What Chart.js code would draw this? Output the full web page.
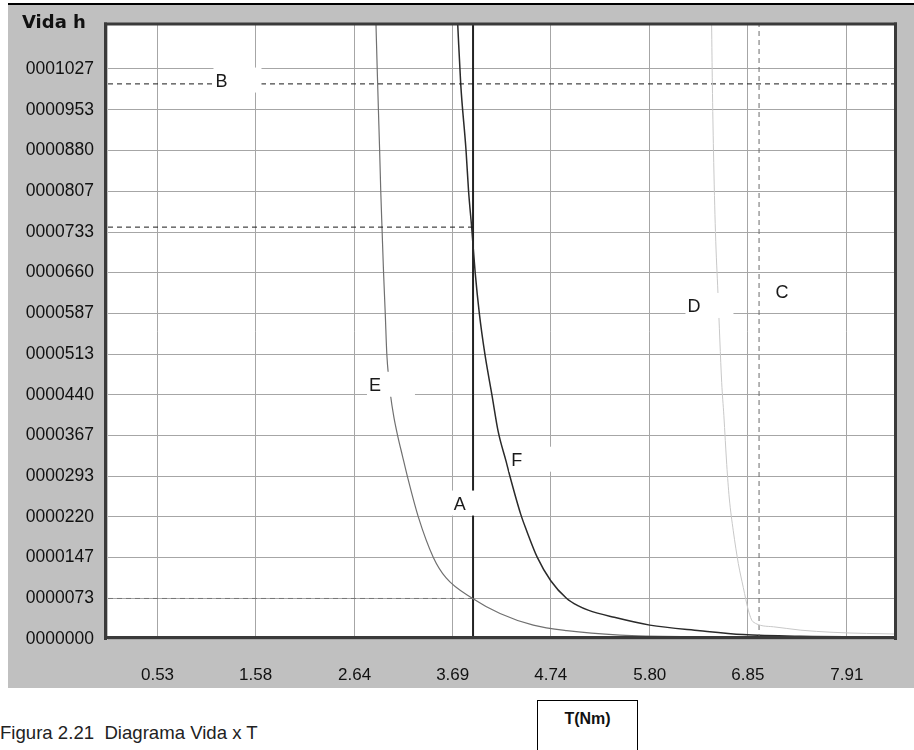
<!DOCTYPE html>
<html>
<head>
<meta charset="utf-8">
<script src="https://cdn.jsdelivr.net/npm/chart.js@4.4.1/dist/chart.umd.min.js"></script>
<style>
html,body{margin:0;padding:0;background:#fff;width:914px;height:750px;overflow:hidden;position:relative;font-family:"Liberation Sans",Arial,sans-serif}
#wrap{position:absolute;left:0;top:0;width:914px;height:692px}
#caption{position:absolute;left:0;top:723px;font-size:18.6px;line-height:20px;color:#222;white-space:pre}
#unit{position:absolute;left:537px;top:700px;width:101px;height:70px;border:1px solid #000;box-sizing:border-box;font-weight:bold;font-size:16px;line-height:18px;padding-top:9px;text-align:center;color:#111}
</style>
</head>
<body>
<div id="wrap"><canvas id="c" width="914" height="692" style="width:914px;height:692px"></canvas></div>
<div id="caption">Figura 2.21  Diagrama Vida x T</div>
<div id="unit">T(Nm)</div>
<script>
// ---- tick labels ----
const xTickLabels = ['0.53','1.58','2.64','3.69','4.74','5.80','6.85','7.91'];
const yTickLabels = ['0000000','0000073','0000147','0000220','0000293','0000367','0000440','0000513','0000587','0000660','0000733','0000807','0000880','0000953','0001027'];
const yAxisTitle = 'Vida h';
const xMax = 8.436;
const yMax = 1107;

// ---- curves (torque T in Nm, life in h) ----
const curveE_T    = [2.869, 2.882, 2.895, 2.908, 2.920, 2.935, 2.950, 2.968, 2.985, 3.005, 3.024, 3.060, 3.100, 3.152, 3.205, 3.322, 3.483, 3.620, 3.904, 4.197, 4.553, 4.911, 5.481, 6.340, 7.410, 8.436];
const curveE_life = [1107, 1027, 953, 880, 807, 733, 660, 587, 513, 470, 440, 400, 367, 330, 293, 220, 147, 110, 73, 46, 25, 15, 7, 4, 3, 2];

const curveF_T    = [3.744, 3.776, 3.833, 3.860, 3.893, 3.931, 3.975, 4.035, 4.110, 4.178, 4.262, 4.300, 4.418, 4.482, 4.596, 4.740, 4.911, 5.030, 5.140, 5.420, 5.800, 6.337, 6.798, 7.410, 8.436];
const curveF_life = [1107, 1000, 880, 807, 742, 660, 587, 513, 440, 373, 320, 295, 225, 195, 147, 105, 73, 60, 52, 39, 25, 15, 8, 5, 4];

const curveD_T    = [6.462, 6.470, 6.482, 6.503, 6.530, 6.570, 6.593, 6.624, 6.651, 6.694, 6.748, 6.801, 6.855, 6.905, 7.123, 7.410, 7.762, 8.122, 8.436];
const curveD_life = [1107, 1000, 880, 734, 623, 462, 403, 314, 254, 195, 136, 93, 52, 31, 22, 16, 12, 10, 9];

// ---- reference lines ----
const torqueA = 3.908;     // vertical line A
const torqueC = 6.97;      // vertical dashed line C
const lifeB = 1000;        // horizontal dashed line B
const lifeF_atA = 742;     // life of curve F at torque A
const lifeE_atA = 73;      // life of curve E at torque A

// ---- letter labels (data units) ----
const labelText  = ['B', 'E', 'A', 'F', 'D', 'C'];
const labelT     = [1.215, 2.858, 3.765, 4.375, 6.273, 7.216];
const labelLife  = [1006, 458, 244, 323, 600, 625];

const pts = (xs, ys) => xs.map((x, i) => ({x: x, y: ys[i]}));

const curveStyle = (color, w) => ({
  showLine: true, pointRadius: 0, borderColor: color, borderWidth: w,
  backgroundColor: color, cubicInterpolationMode: 'monotone', fill: false
});
const refStyle = (color, w, dash) => ({
  showLine: true, pointRadius: 0, borderColor: color, borderWidth: w,
  borderDash: dash, fill: false, tension: 0
});

const datasets = [
  Object.assign({label: 'D', data: pts(curveD_T, curveD_life)}, curveStyle('#c8c8c8', 1)),
  Object.assign({label: 'C', data: [{x: torqueC, y: 0}, {x: torqueC, y: yMax}]}, refStyle('#6a6a6a', 1, [5, 4])),
  Object.assign({label: 'B', data: [{x: 0, y: lifeB}, {x: xMax, y: lifeB}]}, refStyle('#1a1a1a', 1, [5, 4])),
  Object.assign({label: 'FA', data: [{x: 0, y: lifeF_atA}, {x: torqueA, y: lifeF_atA}]}, refStyle('#1a1a1a', 1, [5, 4])),
  Object.assign({label: 'EA', data: [{x: 0, y: lifeE_atA}, {x: torqueA, y: lifeE_atA}]}, refStyle('#777777', 1, [5, 4])),
  Object.assign({label: 'E', data: pts(curveE_T, curveE_life)}, curveStyle('#707070', 1.2)),
  Object.assign({label: 'F', data: pts(curveF_T, curveF_life)}, curveStyle('#2a2a2a', 1.5)),
  Object.assign({label: 'A', data: [{x: torqueA, y: 0}, {x: torqueA, y: yMax}]}, refStyle('#222222', 2, [])),
];

const framePlugin = {
  id: 'frame',
  beforeDraw(chart) {
    const ctx = chart.ctx, ca = chart.chartArea;
    ctx.save();
    ctx.fillStyle = '#c0c0c0';
    ctx.fillRect(8, 4, chart.width - 8, 684);
    ctx.fillStyle = '#000';
    ctx.fillRect(8, 3, chart.width - 8, 2);
    ctx.fillStyle = '#fff';
    ctx.fillRect(ca.left, ca.top, ca.right - ca.left, ca.bottom - ca.top);
    ctx.restore();
  },
  afterDatasetsDraw(chart) {
    const ctx = chart.ctx, xs = chart.scales.x, ys = chart.scales.y;
    ctx.save();
    ctx.font = '18px "Liberation Sans", Arial, sans-serif';
    ctx.textBaseline = 'middle';
    ctx.textAlign = 'center';
    labelText.forEach((t, i) => {
      const cx = xs.getPixelForValue(labelT[i]);
      const cy = ys.getPixelForValue(labelLife[i]);
      const w = ctx.measureText(t).width;
      const left = cx - w / 2;
      ctx.fillStyle = '#fff';
      ctx.fillRect(left - 2, cy - 13, 48, 25);
      ctx.fillStyle = '#1a1a1a';
      ctx.fillText(t, cx, cy + 1);
    });
    ctx.restore();
  },
  afterDraw(chart) {
    const ctx = chart.ctx, ca = chart.chartArea;
    ctx.save();
    ctx.fillStyle = '#3a3a3a';
    ctx.fillRect(ca.left - 4, ca.top - 2, 3, ca.bottom - ca.top + 3);
    ctx.fillRect(ca.left - 4, ca.top - 2, ca.right - ca.left + 5, 3);
    ctx.fillRect(ca.right - 2, ca.top - 2, 3, ca.bottom - ca.top + 3);
    ctx.fillRect(ca.left - 4, ca.bottom - 3, ca.right - ca.left + 5, 3);
    ctx.fillStyle = '#111';
    ctx.font = 'bold 18px "DejaVu Sans", sans-serif';
    ctx.textBaseline = 'alphabetic';
    ctx.textAlign = 'left';
    ctx.fillText(yAxisTitle, 22, 28);
    ctx.restore();
  }
};

new Chart(document.getElementById('c'), {
  type: 'scatter',
  data: {datasets: datasets},
  options: {
    responsive: false,
    devicePixelRatio: 1,
    animation: false,
    events: [],
    layout: {padding: {top: 19, right: 18, left: 0, bottom: 0}},
    plugins: {legend: {display: false}, tooltip: {enabled: false}},
    scales: {
      x: {
        type: 'linear', min: 0, max: xMax,
        afterFit: s => { s.height = 692 - 639; },
        afterBuildTicks: s => { s.ticks = xTickLabels.map(l => ({value: parseFloat(l)})); },
        ticks: {
          callback: (v, i) => xTickLabels[i],
          font: {family: '"Liberation Sans", Arial, sans-serif', size: 17},
          color: '#111', padding: 26, maxRotation: 0, autoSkip: false
        },
        grid: {color: '#a6a6a6', lineWidth: 1, drawTicks: false},
        border: {display: false}
      },
      y: {
        type: 'linear', min: 0, max: yMax,
        afterFit: s => { s.width = 108; },
        afterBuildTicks: s => { s.ticks = yTickLabels.map(l => ({value: parseInt(l, 10)})); },
        ticks: {
          callback: (v, i) => yTickLabels[i],
          font: {family: '"Liberation Sans", Arial, sans-serif', size: 17.5},
          color: '#111', padding: 14, autoSkip: false
        },
        grid: {color: '#a6a6a6', lineWidth: 1, drawTicks: false},
        border: {display: false}
      }
    }
  },
  plugins: [framePlugin]
});
</script>
</body>
</html>
